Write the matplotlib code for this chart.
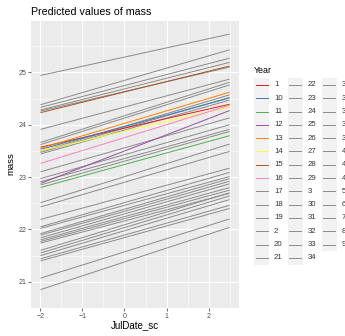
import matplotlib.pyplot as plt
from matplotlib.lines import Line2D
from matplotlib.patches import Rectangle

plt.rcParams['font.family'] = ['Liberation Sans', 'DejaVu Sans']

# predicted mass at JulDate_sc = -2 and 2.5, per Year
years = [str(i) for i in range(1, 42)]
x_ends = [-2, 2.5]
mass_lo = [23.57, 21.92, 21.89, 21.84, 21.80, 21.77, 21.74, 21.55, 21.50,
           23.53, 22.80, 22.88, 23.55, 23.50, 24.23, 23.26,
           24.94, 24.38, 24.33, 24.28, 24.26, 23.91, 23.66, 23.62, 23.49,
           23.47, 23.44, 23.10, 22.97, 22.91, 22.85, 22.51, 22.43, 22.19,
           22.05, 22.02, 21.60, 21.44, 21.40, 21.07, 20.85]
mass_hi = [24.39, 22.97, 22.92, 22.87, 22.80, 22.75, 22.69, 22.64, 22.57,
           24.51, 23.79, 24.27, 24.62, 24.34, 25.12, 24.37,
           25.73, 25.43, 25.27, 25.19, 25.10, 24.87, 24.81, 24.76, 24.57,
           24.52, 24.47, 24.13, 24.00, 23.91, 23.87, 23.63, 23.49, 23.17,
           23.09, 23.01, 22.70, 22.46, 22.40, 22.20, 22.04]

highlight = {'1': '#E41A1C', '10': '#377EB8', '11': '#4DAF4A', '12': '#984EA3',
             '13': '#FF7F00', '14': '#FFFF33', '15': '#A65628', '16': '#F781BF'}
grey = '#8a8a8a'

W, H = 345, 336
fig = plt.figure(figsize=(W / 100, H / 100), dpi=100)
ax = fig.add_axes([31 / W, 1 - 308 / H, (239 - 31) / W, (308 - 21) / H])
ax.set_facecolor('#EBEBEB')

# grey lines first, coloured on top
order = [y for y in years if y not in highlight] + [y for y in years if y in highlight]
for y in order:
    i = years.index(y)
    ax.plot(x_ends, [mass_lo[i], mass_hi[i]], color=highlight.get(y, grey),
            lw=0.7, solid_capstyle='butt', zorder=3 if y in highlight else 2)

ax.set_xlim(-2.225, 2.725)
ax.set_ylim(20.59, 25.98)
ax.set_xticks([-2, -1, 0, 1, 2])
ax.set_yticks([21, 22, 23, 24, 25])
ax.set_xticks([-1.5, -0.5, 0.5, 1.5, 2.5], minor=True)
ax.set_yticks([20.5, 21.5, 22.5, 23.5, 24.5, 25.5], minor=True)
ax.grid(True, which='major', color='white', lw=0.8)
ax.grid(True, which='minor', color='white', lw=0.4)
ax.set_axisbelow(True)
for s in ax.spines.values():
    s.set_visible(False)
ax.tick_params(which='major', length=2, width=0.5, color='#333333',
               labelsize=5, labelcolor='#4D4D4D', pad=1.5)
ax.tick_params(which='minor', length=0)

fig.text(31 / W, 1 - 12 / H, 'Predicted values of mass', fontsize=7.7,
         ha='left', va='center')
fig.text(135 / W, 1 - 325.5 / H, 'JulDate_sc', fontsize=7, ha='center', va='center')
fig.text(11 / W, 1 - 164 / H, 'mass', fontsize=6.8, ha='center', va='center',
         rotation=90)

# legend: sorted like factor levels, 3 columns filled top-down
labels = sorted(years)
nrow = 14
fig.text(254 / W, 1 - 70.7 / H, 'Year', fontsize=6.4, ha='left', va='center')
key_w, row_h, top = 15, 13.3, 78.3
col_x = [254, 287.5, 321.5]
for k, lab in enumerate(labels):
    c, r = divmod(k, nrow)
    x0 = col_x[c]
    y0 = top + r * row_h
    fig.add_artist(Rectangle((x0 / W, 1 - (y0 + row_h) / H), key_w / W, row_h / H,
                             transform=fig.transFigure, facecolor='#F2F2F2',
                             edgecolor='none'))
    yc = 1 - (y0 + row_h / 2) / H
    fig.add_artist(Line2D([(x0 + 1.5) / W, (x0 + key_w - 1.5) / W], [yc, yc],
                          transform=fig.transFigure, lw=0.7,
                          color=highlight.get(lab, grey)))
    fig.text((x0 + 20) / W, yc, lab, fontsize=5.6, ha='left', va='center',
             color='#333333')

fig.savefig('out.png', dpi=100)
